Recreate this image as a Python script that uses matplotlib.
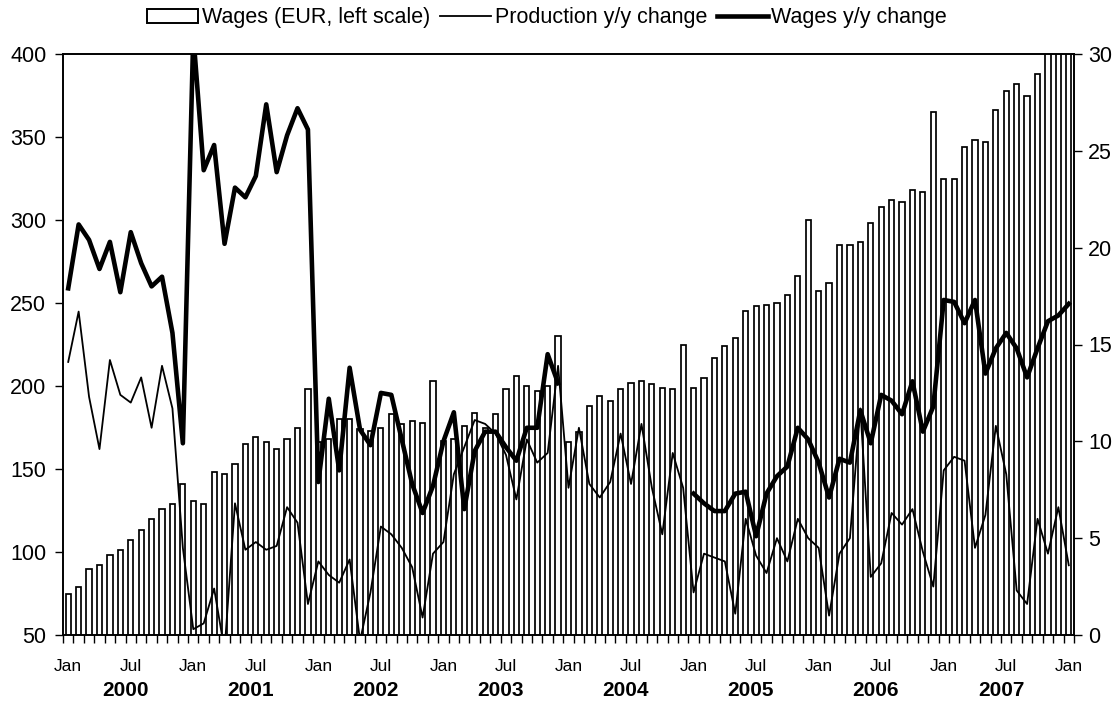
import numpy as np
import matplotlib
matplotlib.use("Agg")
import matplotlib.pyplot as plt
from matplotlib.patches import Patch
from matplotlib.lines import Line2D

plt.rcParams['font.family'] = ['Liberation Sans', 'DejaVu Sans']

years = [2000, 2001, 2002, 2003, 2004, 2005, 2006, 2007]

# Monthly data Jan 2000 .. Jan 2008
wages = [75, 79, 90, 92, 98, 101, 107, 113, 120, 126, 129, 141,
         131, 129, 148, 147, 153, 165, 169, 166, 162, 168, 175, 198,
         166, 168, 180, 180, 174, 173, 175, 183, 177, 179, 178, 203,
         167, 168, 176, 184, 175, 183, 198, 206, 200, 197, 200, 230,
         166, 172, 188, 194, 191, 198, 202, 203, 201, 199, 198, 225,
         199, 205, 217, 224, 229, 245, 248, 249, 250, 255, 266, 300,
         257, 262, 285, 285, 287, 298, 308, 312, 311, 318, 317, 365,
         325, 325, 344, 348, 347, 366, 378, 382, 375, 388, 410, 415,
         420]

production_yy = [14.1, 16.7, 12.3, 9.6, 14.2, 12.4, 12.0, 13.3, 10.7, 13.9, 11.7, 4.5,
                 0.3, 0.6, 2.4, -0.8, 6.8, 4.4, 4.8, 4.4, 4.6, 6.6, 5.8, 1.6,
                 3.8, 3.1, 2.7, 3.9, -0.3, 2.2, 5.6, 5.2, 4.5, 3.5, 0.9, 4.2,
                 4.8, 8.3, 9.7, 11.1, 10.9, 10.4, 9.3, 7.0, 10.1, 8.9, 9.4, 13.9,
                 7.6, 10.7, 7.8, 7.1, 7.9, 10.4, 7.8, 10.9, 7.6, 5.2, 9.4, 7.6,
                 2.2, 4.2, 4.0, 3.8, 1.1, 6.0, 4.1, 3.2, 5.0, 3.8, 6.0, 5.0,
                 4.5, 1.0, 4.2, 5.0, 11.7, 3.0, 3.7, 6.3, 5.7, 6.5, 4.3, 2.5,
                 8.5, 9.2, 9.0, 4.5, 6.2, 10.8, 8.3, 2.3, 1.6, 6.0, 4.2, 6.6,
                 3.6]

nan = float('nan')
wages_yy = [17.9, 21.2, 20.4, 18.9, 20.3, 17.7, 20.8, 19.2, 18.0, 18.5, 15.6, 9.9,
            31.0, 24.0, 25.3, 20.2, 23.1, 22.6, 23.7, 27.4, 23.9, 25.8, 27.2, 26.1,
            7.9, 12.2, 8.5, 13.8, 10.6, 9.8, 12.5, 12.4, 10.1, 7.8, 6.3, 7.7,
            10.0, 11.5, 6.5, 9.5, 10.5, 10.5, 9.7, 9.0, 10.7, 10.7, 14.5, 13.0,
            nan, nan, nan, nan, nan, nan, nan, nan, nan, nan, nan, nan,
            7.3, 6.8, 6.4, 6.4, 7.3, 7.4, 5.1, 7.3, 8.2, 8.7, 10.7, 10.1,
            8.9, 7.1, 9.1, 8.9, 11.6, 9.9, 12.4, 12.1, 11.4, 13.1, 10.5, 11.8,
            17.3, 17.2, 16.1, 17.3, 13.5, 14.8, 15.6, 14.8, 13.3, 14.8, 16.2, 16.5,
            17.1]

month_names = ['Jan', 'Feb', 'Mar', 'Apr', 'May', 'Jun',
               'Jul', 'Aug', 'Sep', 'Oct', 'Nov', 'Dec']

n = len(wages)
x = np.arange(n)

W, H = 1120, 704
fig = plt.figure(figsize=(W / 100, H / 100), dpi=100)
L, R, T, B = 63, 1074, 54, 635
ax = fig.add_axes([L / W, 1 - B / H, (R - L) / W, (B - T) / H])

ax.bar(x, wages, width=0.5, color='white', edgecolor='black', linewidth=1.25, zorder=2)
ax.set_ylim(50, 400)
ax.set_xlim(-0.5, n - 0.5)
ax.set_yticks(np.arange(50, 401, 50))

ax2 = ax.twinx()
ax2.plot(x, production_yy, color='black', lw=1.3, zorder=3)
ax2.plot(x, wages_yy, color='black', lw=3.3, zorder=4)
ax2.set_ylim(0, 30)
ax2.set_yticks(np.arange(0, 31, 5))
ax2.set_xlim(-0.5, n - 0.5)

# x axis: month labels at Jan/Jul, boundary ticks
lab_pos = [i for i in range(n) if i % 6 == 0]
ax.set_xticks(lab_pos)
ax.set_xticklabels([month_names[i % 12] for i in lab_pos])
ax.set_xticks(np.arange(-0.5, n, 1.0), minor=True)
ax.tick_params(axis='x', which='major', length=0, pad=17, labelsize=12.5)
ax.tick_params(axis='x', which='minor', length=6, width=1.0, direction='out')
ax.tick_params(axis='y', which='major', length=6, width=1.0, labelsize=15.5, pad=6)
ax2.tick_params(axis='y', which='major', length=6, width=1.0, labelsize=15.5, pad=4)

trans = ax.get_xaxis_transform()
for k, yr in enumerate(years):
    ax.text(12 * k + 5.5, -(690 - B) / (B - T), str(yr), transform=trans,
            ha='center', va='center', fontsize=15, fontweight='bold')

for a in (ax, ax2):
    for s in a.spines.values():
        s.set_linewidth(1.2)
        s.set_color('black')

handles = [Patch(facecolor='white', edgecolor='black', linewidth=1.4),
           Line2D([0], [0], color='black', lw=1.3),
           Line2D([0], [0], color='black', lw=3.3)]
labels = ['Wages (EUR, left scale)', 'Production y/y change', 'Wages y/y change']
fig.legend(handles, labels, loc='center', bbox_to_anchor=(547 / W, 1 - 18 / H),
           ncol=3, frameon=False, fontsize=15.5, handlelength=2.4,
           handletextpad=0.15, columnspacing=0.45, handleheight=0.6,
           borderaxespad=0, borderpad=0)

fig.savefig('out.png', dpi=100)
